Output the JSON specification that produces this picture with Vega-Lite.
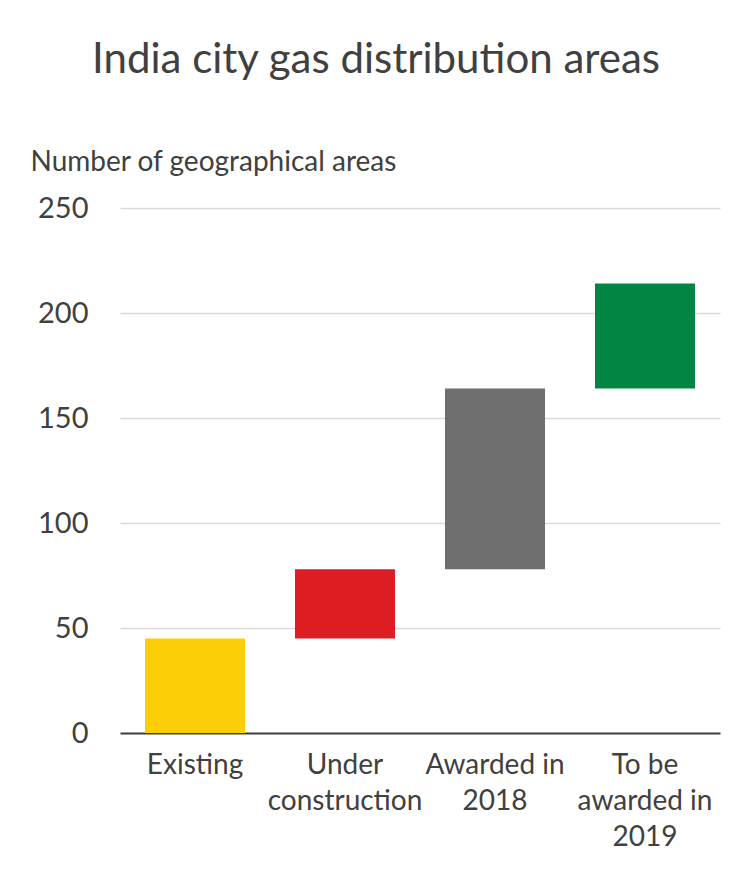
{
  "$schema": "https://vega.github.io/schema/vega-lite/v6.json",
  "autosize": "none",
  "width": 600,
  "height": 525,
  "padding": {"left": 120, "top": 208, "right": 29, "bottom": 148},
  "background": "white",
  "title": {
    "text": "India city gas distribution areas",
    "font": "Lato",
    "fontSize": 42,
    "fontWeight": "normal",
    "color": "#404040",
    "anchor": "middle",
    "dx": -44,
    "offset": 66
  },
  "data": {
    "values": [
      {"category": "Existing", "start": 0, "end": 45, "color": "#FBCE07"},
      {"category": "Under|construction", "start": 45, "end": 78, "color": "#DD1D21"},
      {"category": "Awarded in|2018", "start": 78, "end": 164, "color": "#6E6E6E"},
      {"category": "To be|awarded in|2019", "start": 164, "end": 214, "color": "#008542"}
    ]
  },
  "mark": {"type": "bar"},
  "encoding": {
    "x": {
      "field": "category",
      "type": "nominal",
      "sort": null,
      "scale": {"paddingInner": 0.3333, "paddingOuter": 0.1667},
      "axis": {
        "title": null,
        "labelAngle": 0,
        "labelExpr": "split(datum.label, '|')",
        "labelFont": "Lato",
        "labelFontSize": 28,
        "labelLineHeight": 36,
        "labelColor": "#404040",
        "labelPadding": 18,
        "ticks": false,
        "domainColor": "#404040",
        "domainWidth": 2
      }
    },
    "y": {
      "field": "start",
      "type": "quantitative",
      "scale": {"domain": [0, 250]},
      "axis": {
        "title": "Number of geographical areas",
        "titleAngle": 0,
        "titleAlign": "left",
        "titleBaseline": "alphabetic",
        "titleAnchor": "end",
        "titleX": -90,
        "titleY": -38,
        "titleFont": "Lato",
        "titleFontSize": 28,
        "titleFontWeight": "normal",
        "titleColor": "#404040",
        "values": [0, 50, 100, 150, 200, 250],
        "labelFont": "Lato",
        "labelFontSize": 29,
        "labelColor": "#404040",
        "labelPadding": 32,
        "ticks": false,
        "domain": false,
        "gridColor": "#d9d9d9",
        "gridWidth": 1.5
      }
    },
    "y2": {"field": "end"},
    "color": {"field": "color", "type": "nominal", "scale": null}
  },
  "config": {"view": {"stroke": null}}
}
